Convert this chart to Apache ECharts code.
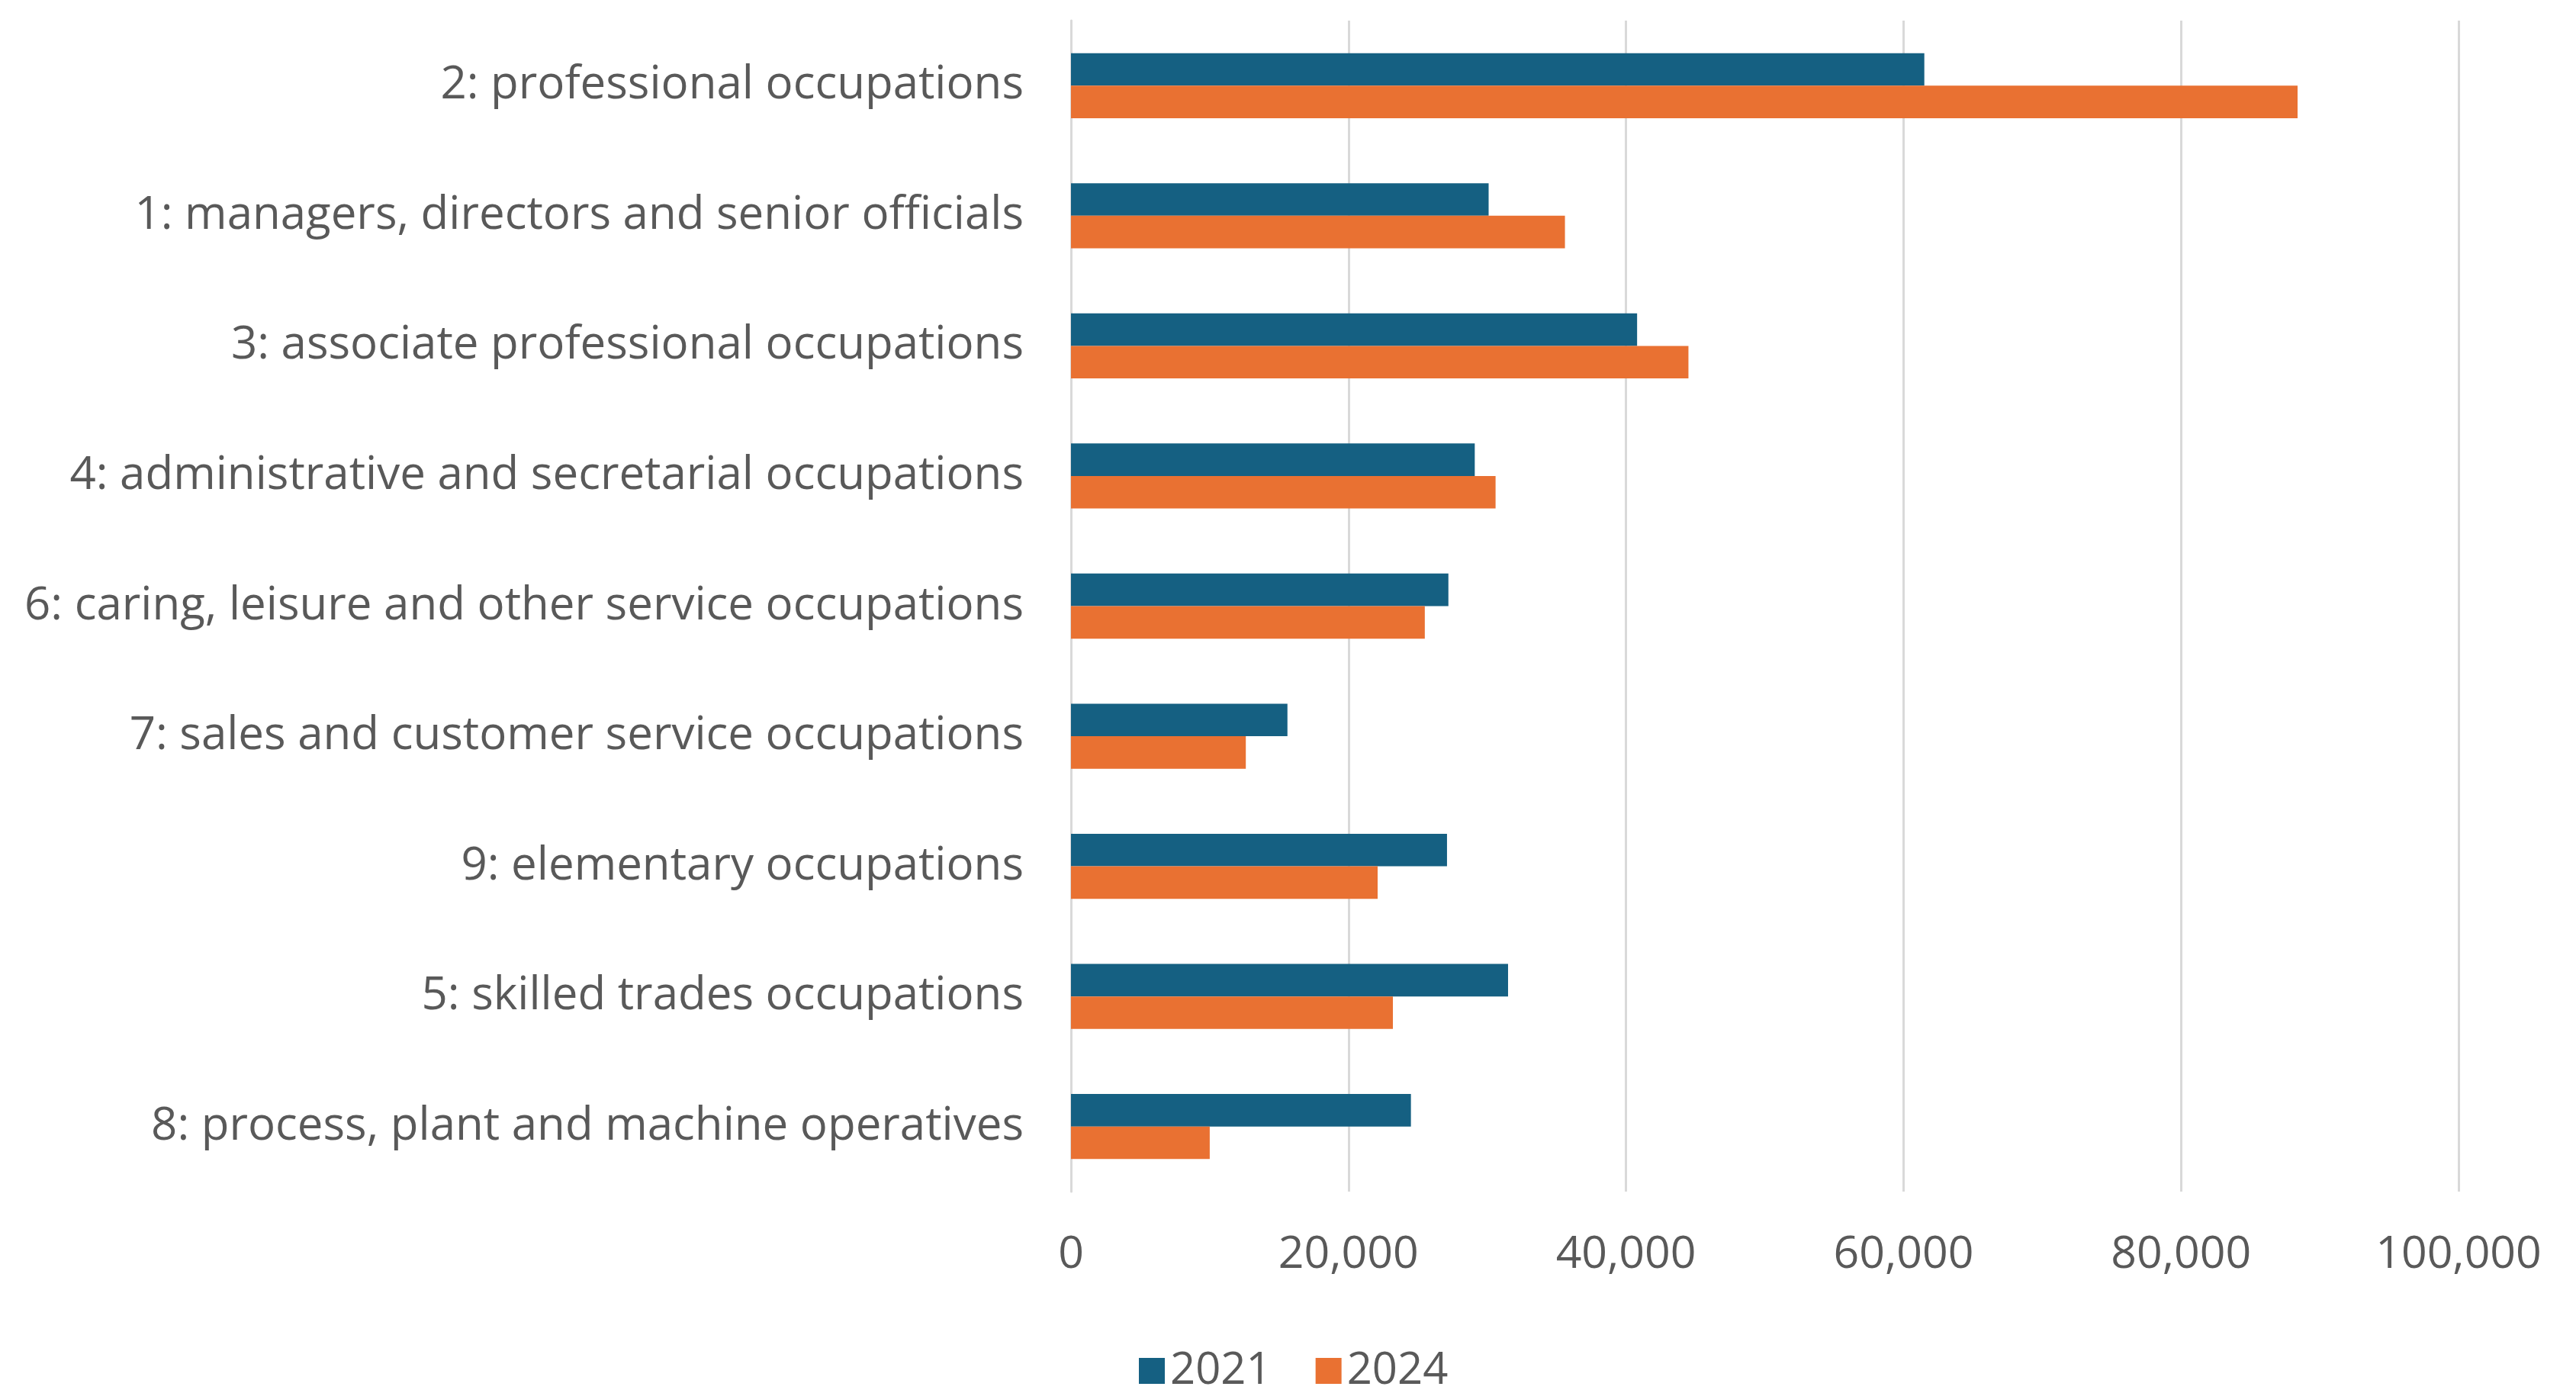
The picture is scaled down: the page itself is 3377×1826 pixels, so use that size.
<!DOCTYPE html>
<html>
<head>
<meta charset="utf-8">
<script src="https://cdn.jsdelivr.net/npm/echarts@6/dist/echarts.min.js"></script>
<style>
  html, body { margin: 0; padding: 0; background: #ffffff; }
  #chart { width: 3377px; height: 1826px; }
</style>
</head>
<body>
<div id="chart"></div>
<script>
// Employment by occupation group (SOC major group), 2021 vs 2024
const categories = [
  '2: professional occupations',
  '1: managers, directors and senior officials',
  '3: associate professional occupations',
  '4: administrative and secretarial occupations',
  '6: caring, leisure and other service occupations',
  '7: sales and customer service occupations',
  '9: elementary occupations',
  '5: skilled trades occupations',
  '8: process, plant and machine operatives'
];
const values2021 = [61500, 30100, 40800, 29100, 27200, 15600, 27100, 31500, 24500];
const values2024 = [88400, 35600, 44500, 30600, 25500, 12600, 22100, 23200, 10000];
const seriesNames = ['2021', '2024'];

const FONT = 'Open Sans';
const TEXT = '#595959';

const chart = echarts.init(document.getElementById('chart'), null, { renderer: 'canvas' });
chart.setOption({
  backgroundColor: '#ffffff',
  animation: false,
  color: ['#156082', '#E97132'],
  textStyle: { fontFamily: FONT },
  grid: { left: 1404, right: 154, top: 27, bottom: 264, containLabel: false },
  legend: {
    data: seriesNames,
    left: 1493,
    top: 1766,
    padding: 0,
    itemWidth: 34,
    itemHeight: 34,
    itemGap: 58,
    icon: 'rect',
    textStyle: { fontFamily: FONT, fontSize: 58, lineHeight: 62, color: TEXT, padding: [0, 0, 0, 2] }
  },
  xAxis: {
    type: 'value',
    min: 0,
    max: 100000,
    interval: 20000,
    axisLine: { show: false },
    axisTick: { show: false },
    splitLine: { show: true, lineStyle: { color: '#d9d9d9', width: 3 } },
    axisLabel: {
      fontFamily: FONT,
      fontSize: 59,
      color: TEXT,
      margin: 54,
      formatter: v => v.toLocaleString('en-US')
    }
  },
  yAxis: {
    type: 'category',
    data: categories,
    inverse: true,
    axisLine: { show: true, lineStyle: { color: '#d9d9d9', width: 3 } },
    axisTick: { show: false },
    axisLabel: { fontFamily: FONT, fontSize: 60, color: TEXT, margin: 62 }
  },
  series: [
    {
      name: seriesNames[0],
      type: 'bar',
      data: values2021,
      barGap: '0%',
      barCategoryGap: '50%'
    },
    {
      name: seriesNames[1],
      type: 'bar',
      data: values2024,
      barGap: '0%',
      barCategoryGap: '50%'
    }
  ]
});
</script>
</body>
</html>
